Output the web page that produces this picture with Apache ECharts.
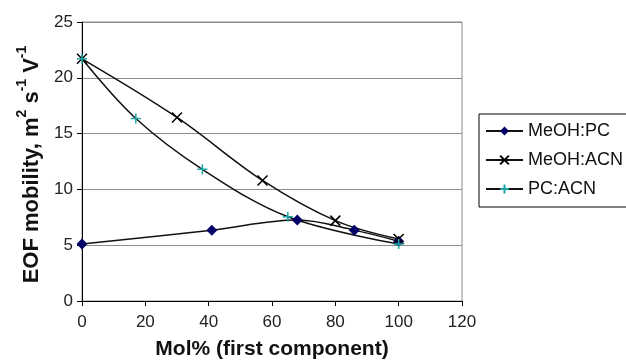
<!DOCTYPE html>
<html>
<head>
<meta charset="utf-8">
<script src="https://cdn.jsdelivr.net/npm/echarts@6/dist/echarts.min.js"></script>
<style>
  html, body { margin: 0; padding: 0; background: #fff; }
  #chart { width: 626px; height: 361px; }
</style>
</head>
<body>
<div id="chart"></div>
<script>
// 数据：x 为第一组分摩尔百分比，y 为 EOF 淌度
var seriesNames = ['MeOH:PC', 'MeOH:ACN', 'PC:ACN'];
var meohPcX = [0, 41, 68, 86, 100];
var meohPcY = [5.1, 6.35, 7.25, 6.35, 5.35];
var meohAcnX = [0, 30, 57, 80, 100];
var meohAcnY = [21.7, 16.45, 10.8, 7.2, 5.55];
var pcAcnX = [0, 17, 38, 65, 100];
var pcAcnY = [21.7, 16.35, 11.8, 7.55, 5.1];
var xTicks = [0, 20, 40, 60, 80, 100, 120];
var yTicks = [0, 5, 10, 15, 20, 25];

var FONT = '"Liberation Sans", Arial, sans-serif';
var crossPath = 'path://M0,0L10,10M10,0L0,10';
var plusPath = 'path://M5,0L5,10M0,5L10,5';

function pairs(xs, ys) {
    return xs.map(function(x, i) { return [x, ys[i]]; });
}

var chart = echarts.init(document.getElementById('chart'), null, {renderer: 'canvas'});

var option = {
    animation: false,
    backgroundColor: '#fff',
    grid: {
        left: 82,
        right: 164,
        top: 22,
        bottom: 60,
        outerBoundsMode: 'none',
        show: true,
        borderColor: '#8c8c8c',
        borderWidth: 1
    },
    legend: {
        left: 479,
        top: 114,
        orient: 'vertical',
        itemWidth: 37,
        itemHeight: 11,
        itemGap: 11,
        padding: [8, 12, 9, 6],
        borderColor: '#000',
        borderWidth: 1,
        textStyle: {fontFamily: FONT, fontSize: 18, color: '#111'},
        data: seriesNames
    },
    xAxis: {
        type: 'value',
        min: xTicks[0],
        max: xTicks[xTicks.length - 1],
        interval: 20,
        name: 'Mol% (first component)',
        nameLocation: 'middle',
        nameGap: 38,
        nameTextStyle: {fontFamily: FONT, fontSize: 21, fontWeight: 'bold', color: '#111'},
        axisLine: {lineStyle: {color: '#000', width: 1}},
        axisTick: {show: true, inside: false, length: 5, lineStyle: {color: '#000'}},
        axisLabel: {fontFamily: FONT, fontSize: 17, color: '#222', margin: 13},
        splitLine: {show: false}
    },
    yAxis: {
        type: 'value',
        min: yTicks[0],
        max: yTicks[yTicks.length - 1],
        interval: 5,
        name: '{t|EOF mobility, m}{s|2}{t| s}{s|-1}{t| V}{s|-1}',
        nameLocation: 'middle',
        nameGap: 29,
        nameTextStyle: {
            padding: [0, 6, 0, 0],
            rich: {
                t: {fontFamily: FONT, fontSize: 22, fontWeight: 'bold', color: '#111', lineHeight: 28, verticalAlign: 'bottom'},
                s: {fontFamily: FONT, fontSize: 14, fontWeight: 'bold', color: '#111', lineHeight: 28, verticalAlign: 'top'}
            }
        },
        axisLine: {show: true, lineStyle: {color: '#000', width: 1}},
        axisTick: {show: true, inside: false, length: 5, lineStyle: {color: '#000'}},
        axisLabel: {fontFamily: FONT, fontSize: 17, color: '#222', margin: 9},
        splitLine: {show: true, lineStyle: {color: '#8c8c8c', width: 1}}
    },
    series: [
        {
            name: seriesNames[0],
            type: 'line',
            smooth: 0.35,
            symbol: 'diamond',
            symbolSize: 11,
            itemStyle: {color: '#000066'},
            lineStyle: {color: '#111', width: 1.5},
            data: pairs(meohPcX, meohPcY)
        },
        {
            name: seriesNames[1],
            type: 'line',
            smooth: 0.35,
            symbol: crossPath,
            symbolSize: 10,
            itemStyle: {color: '#000', borderColor: '#000', borderWidth: 1.5},
            lineStyle: {color: '#111', width: 1.5},
            data: pairs(meohAcnX, meohAcnY)
        },
        {
            name: seriesNames[2],
            type: 'line',
            smooth: 0.35,
            symbol: plusPath,
            symbolSize: 10,
            itemStyle: {color: '#1aa5a5', borderColor: '#1aa5a5', borderWidth: 1.5},
            lineStyle: {color: '#111', width: 1.5},
            data: pairs(pcAcnX, pcAcnY)
        }
    ]
};

chart.setOption(option);
</script>
</body>
</html>
